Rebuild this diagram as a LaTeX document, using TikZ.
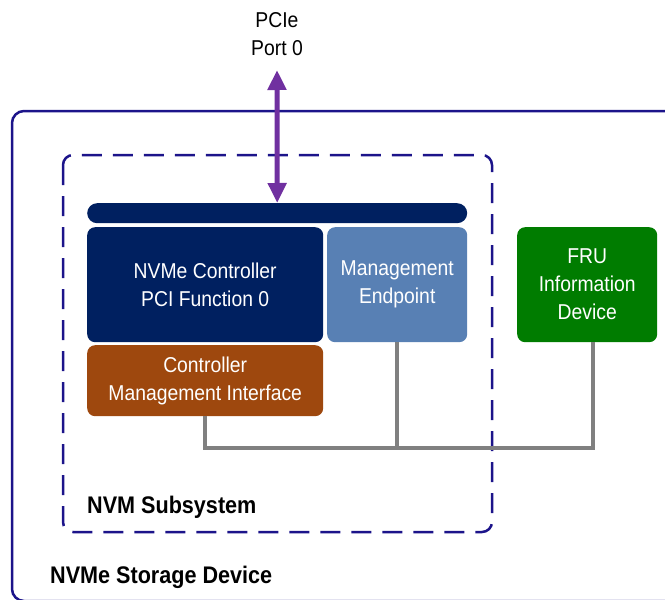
\documentclass[tikz,border=0pt]{standalone}
\usepackage{fontspec}
\setmainfont{Liberation Sans}[FakeStretch=0.9]
\usetikzlibrary{arrows.meta}
\definecolor{navyline}{RGB}{28,20,138}
\definecolor{darkblue}{RGB}{0,32,96}
\definecolor{steel}{RGB}{88,128,180}
\definecolor{rust}{RGB}{158,72,14}
\definecolor{frugreen}{RGB}{0,124,0}
\definecolor{conngray}{RGB}{128,128,128}
\definecolor{pcipurple}{RGB}{112,48,160}
\tikzset{
  blk/.style={rounded corners=8pt, inner sep=0pt, text=white, align=center,
    anchor=north west, font=\fontsize{21.5}{28}\selectfont},
  conn/.style={draw=conngray, line width=4.5pt, line join=miter},
  lbl/.style={inner sep=0pt, anchor=base west, font=\bfseries\fontsize{24}{28}\selectfont},
}
\begin{document}
\begin{tikzpicture}[x=1pt,y=-1pt]
\useasboundingbox (0,0) rectangle (665,600);
% outer device box
\draw[navyline, line width=2.5pt, rounded corners=12pt] (680,111) -- (12,111) -- (12,601) -- (680,601);
% NVM subsystem dashed box
\draw[navyline, line width=2.5pt, rounded corners=10pt, dash pattern=on 20pt off 11pt] (63,155) rectangle (492,532);
% bus bar
\node[fill=darkblue, rounded corners=10pt, minimum width=380pt, minimum height=20pt, inner sep=0pt, anchor=north west] (bus) at (87,203) {};
% blocks
\node[blk, fill=darkblue, minimum width=236pt, minimum height=115pt] (nvme) at (87,227) {NVMe Controller\\PCI Function 0};
\node[blk, fill=steel, minimum width=140pt, minimum height=115pt] (me) at (327,227) {Management\\Endpoint};
\node[blk, fill=rust, minimum width=236pt, minimum height=71pt] (cmi) at (87,345) {Controller\\Management Interface};
\node[blk, fill=frugreen, minimum width=140pt, minimum height=115pt] (fru) at (517,227) {FRU\\Information\\Device};
% connectors
\coordinate (j) at (0,448);
\coordinate (frudrop) at ([xshift=6pt]fru.south);
\draw[conn] (cmi.south) -- (cmi.south |- j) -- (frudrop |- j) -- (frudrop);
\draw[conn] (me.south) -- (me.south |- j);
% PCIe port
\node[inner sep=0pt, align=center, anchor=north, font=\fontsize{21.5}{28}\selectfont] (pcie) at (277,12) {PCIe\\Port 0};
\coordinate (ptop) at (277,70);
\draw[pcipurple, line width=5pt, {Triangle[length=20pt,width=18pt]}-{Triangle[length=20pt,width=18pt]}] (ptop) -- (bus.north);
% labels
\node[lbl] (nvmsub) at (87,513) {NVM Subsystem};
\node[lbl] (dev) at (50,583) {NVMe Storage Device};
\end{tikzpicture}
\end{document}
